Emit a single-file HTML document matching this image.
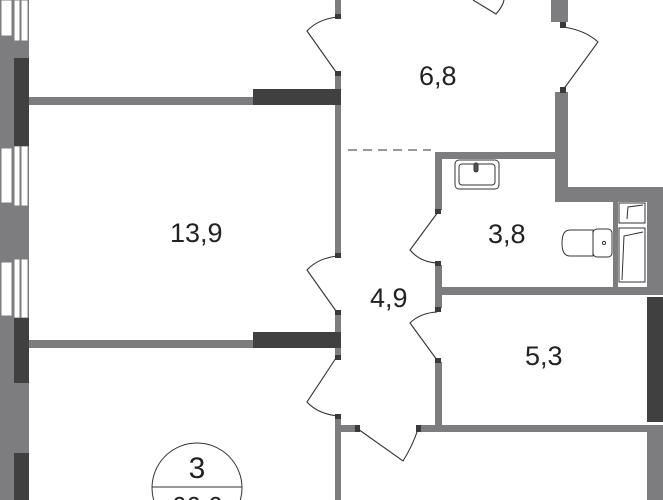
<!DOCTYPE html>
<html><head><meta charset="utf-8"><style>
html,body{margin:0;padding:0;background:#fff;width:663px;height:500px;overflow:hidden;}
svg{display:block;}
text{font-family:"Liberation Sans",sans-serif;fill:#222;}
</style></head><body>
<svg width="663" height="500" viewBox="0 0 663 500" xmlns="http://www.w3.org/2000/svg">
<rect width="663" height="500" fill="#fff"/>
<rect x="0" y="0" width="29" height="500" fill="#7d7d7f"/>
<g fill="#fff" stroke="#7d7d7f" stroke-width="1">
<rect x="1" y="0" width="11" height="36"/>
<rect x="14" y="0" width="6" height="41"/><rect x="21" y="0" width="7" height="41"/>
<rect x="1" y="148" width="11" height="55"/>
<rect x="14" y="146" width="6" height="60"/><rect x="21" y="146" width="7" height="60"/>
<rect x="1" y="262" width="11" height="54"/>
<rect x="14" y="259" width="6" height="59"/><rect x="21" y="259" width="7" height="59"/>
</g>
<g fill="#404040">
<rect x="14" y="58" width="15" height="88"/>
<rect x="14" y="318" width="15" height="65"/>
<rect x="14" y="453" width="15" height="47"/>
</g>
<g fill="#7d7d7f">
<rect x="29" y="97" width="230" height="8"/>
<rect x="29" y="340" width="230" height="8"/>
<rect x="335" y="0" width="6" height="14"/>
<rect x="335" y="76" width="6" height="180"/>
<rect x="335" y="312" width="6" height="44"/>
<rect x="335" y="418" width="6" height="82"/>
<rect x="341" y="425" width="14" height="7"/>
<rect x="420" y="425" width="243" height="7"/>
<rect x="647" y="432" width="16" height="68"/>
<rect x="435" y="152" width="7" height="58"/>
<rect x="435" y="152" width="120" height="7"/>
<rect x="551" y="0" width="17" height="22"/>
<rect x="555" y="92" width="13" height="110"/>
<rect x="555" y="187" width="108" height="15"/>
<rect x="647" y="202" width="16" height="93"/>
<rect x="613" y="202" width="5" height="86"/>
<rect x="442" y="287" width="205" height="8"/>
<rect x="435" y="265" width="7" height="43"/>
<rect x="435" y="362" width="7" height="63"/>
</g>
<g fill="#404040">
<rect x="253" y="89" width="88" height="16"/>
<rect x="253" y="332" width="88" height="16"/>
<rect x="647" y="297" width="16" height="125"/>
</g>
<g fill="#3a3a3a">
<rect x="335" y="14" width="6" height="5"/><rect x="335" y="71" width="6" height="5"/>
<rect x="335" y="253" width="6" height="5"/><rect x="335" y="310" width="6" height="5"/>
<rect x="335" y="355" width="6" height="5"/><rect x="335" y="414" width="6" height="5"/>
<rect x="355" y="425" width="5" height="7"/><rect x="416" y="425" width="5" height="7"/>
<rect x="560" y="22" width="6" height="6"/><rect x="560" y="87" width="6" height="6"/>
<rect x="435" y="209" width="6" height="5"/><rect x="435" y="261" width="6" height="5"/>
<rect x="435" y="307" width="6" height="5"/><rect x="435" y="358" width="6" height="5"/>
</g>
<g fill="none" stroke="#333" stroke-width="1.1">
<path d="M338 17 Q318 19 307 31 L336 72"/>
<path d="M338 256 Q318 258 307 270 L336 311"/>
<path d="M336 358 L307 402 Q318 414 338 416"/>
<path d="M358 429 L403 461 Q413 445 418 429"/>
<path d="M563 27 Q585 30 598 42 L563 90"/>
<path d="M473 0 L496 14 Q503 6 504 0"/>
<path d="M438 212 L410 250 Q420 262 437 263"/>
<path d="M437 312 Q420 313 410 323 L437 360"/>
</g>
<line x1="348" y1="150" x2="431" y2="150" stroke="#333" stroke-width="1" stroke-dasharray="9,6"/>
<g fill="#fff" stroke="#333" stroke-width="1">
<rect x="455" y="160" width="44" height="29" rx="4"/>
<rect x="459" y="164" width="36" height="21" rx="3"/>
<rect x="474" y="163" width="4" height="9" rx="2" fill="#555"/>
<path d="M593 230 L570 230 Q562 230 562 243 Q562 256 570 256 L593 256 Z"/>
<rect x="593" y="229" width="19" height="28" rx="4"/>
<circle cx="604" cy="243" r="1.6"/>
<rect x="619" y="203" width="26" height="20"/>
<path d="M627 219 L628 207 L643 205"/>
<rect x="619" y="228" width="26" height="54"/>
<path d="M622 280 L624 236 L643 232"/>
</g>
<text x="170" y="242" font-size="27">13,9</text>
<text x="419" y="85" font-size="27">6,8</text>
<text x="488" y="243" font-size="27">3,8</text>
<text x="370" y="307" font-size="27">4,9</text>
<text x="525" y="365" font-size="27">5,3</text>
<circle cx="197" cy="488" r="45" fill="none" stroke="#333" stroke-width="1"/>
<line x1="152" y1="487" x2="242" y2="487" stroke="#333" stroke-width="1"/>
<text x="197" y="478" font-size="30" text-anchor="middle">3</text>
<text x="197" y="515" font-size="26" text-anchor="middle">66,6</text>
</svg>
</body></html>
